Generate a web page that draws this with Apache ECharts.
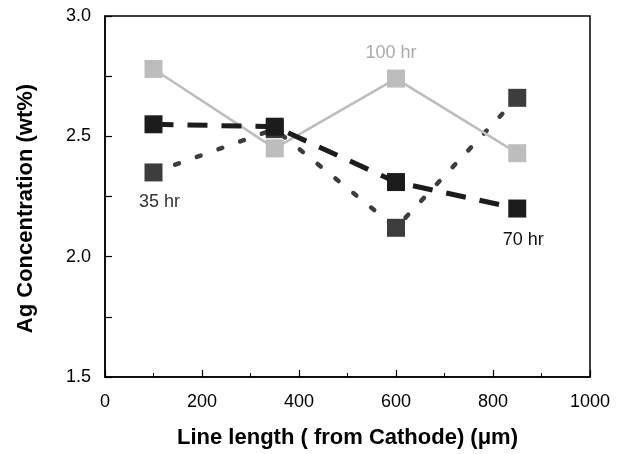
<!DOCTYPE html>
<html>
<head>
<meta charset="utf-8">
<script src="https://cdn.jsdelivr.net/npm/echarts@6/dist/echarts.min.js"></script>
<style>html,body{margin:0;padding:0;background:#fff;}#c{width:624px;height:454px;}</style>
</head>
<body>
<div id="c"></div>
<script>
const positions = [100, 350, 600, 850];
const hr35 = [2.35, 2.53, 2.12, 2.66];
const hr70 = [2.55, 2.54, 2.31, 2.20];
const hr100 = [2.78, 2.45, 2.74, 2.43];
const seriesNames = ['35 hr', '70 hr', '100 hr'];
const xTicks = [0, 200, 400, 600, 800, 1000];
const yTicks = [1.5, 2.0, 2.5, 3.0];

const FONT = '"Liberation Sans", Arial, sans-serif';

function pts(vals, labelIdx, labelText, pos, color, offset) {
  return positions.map((x, i) => {
    const d = { value: [x, vals[i]] };
    if (i === labelIdx) {
      d.label = { show: true, formatter: labelText, position: pos, distance: 0, offset: offset,
        color: color, fontSize: 18, fontFamily: FONT };
    }
    return d;
  });
}

const chart = echarts.init(document.getElementById('c'), null, { renderer: 'canvas' });
chart.setOption({
  animation: false,
  backgroundColor: '#fff',
  grid: { left: 105, right: 34, top: 16, bottom: 77, show: true, borderColor: '#000', borderWidth: 1.5, backgroundColor: 'transparent' },
  xAxis: {
    type: 'value', min: 0, max: 1000, interval: 200,
    name: 'Line length ( from Cathode) (\u03bcm)', nameLocation: 'middle', nameGap: 50,
    nameTextStyle: { fontSize: 22, fontWeight: 'bold', color: '#000', fontFamily: FONT },
    axisLine: { show: true, lineStyle: { color: '#000', width: 1.5 } },
    axisTick: { show: true, inside: true, length: 7, lineStyle: { color: '#000', width: 1.2 } },
    minorTick: { show: true, splitNumber: 2, length: 4, lineStyle: { color: '#000', width: 1 } },
    splitLine: { show: false },
    axisLabel: { fontSize: 18, color: '#000', margin: 16, fontFamily: FONT,
      formatter: v => xTicks.includes(v) ? String(v) : '' }
  },
  yAxis: {
    type: 'value', min: 1.5, max: 3.0, interval: 0.5,
    name: 'Ag Concentration (wt%)', nameLocation: 'middle', nameGap: 68, nameRotate: 90,
    nameTextStyle: { fontSize: 22, fontWeight: 'bold', color: '#000', fontFamily: FONT, padding: [0, 24, 0, 0] },
    axisLine: { show: true, lineStyle: { color: '#000', width: 1.5 } },
    axisTick: { show: true, inside: true, length: 7, lineStyle: { color: '#000', width: 1.2 } },
    minorTick: { show: true, splitNumber: 2, length: 7, lineStyle: { color: '#000', width: 1.2 } },
    splitLine: { show: false },
    axisLabel: { fontSize: 18, color: '#000', margin: 14, fontFamily: FONT,
      formatter: v => yTicks.some(t => Math.abs(t - v) < 1e-9) ? v.toFixed(1) : '' }
  },
  series: [
    {
      name: seriesNames[0], type: 'line', symbol: 'rect', symbolSize: 18,
      data: pts(hr35, 0, '35 hr', 'bottom', '#333', [6, 12]),
      itemStyle: { color: '#3d3d3d' },
      lineStyle: { color: '#3d3d3d', width: 4.5, type: [4, 19], cap: 'round' },
      z: 2
    },
    {
      name: seriesNames[2], type: 'line', symbol: 'rect', symbolSize: 18,
      data: pts(hr100, 2, '100 hr', 'top', '#aaa', [-5, -8]),
      itemStyle: { color: '#bdbdbd' },
      lineStyle: { color: '#bdbdbd', width: 2.5, type: 'solid' },
      z: 3
    },
    {
      name: seriesNames[1], type: 'line', symbol: 'rect', symbolSize: 18,
      data: pts(hr70, 3, '70 hr', 'bottom', '#111', [6, 13]),
      itemStyle: { color: '#1c1c1c' },
      lineStyle: { color: '#1c1c1c', width: 5, type: [20, 14], cap: 'butt' },
      z: 4
    }
  ]
});
</script>
</body>
</html>
